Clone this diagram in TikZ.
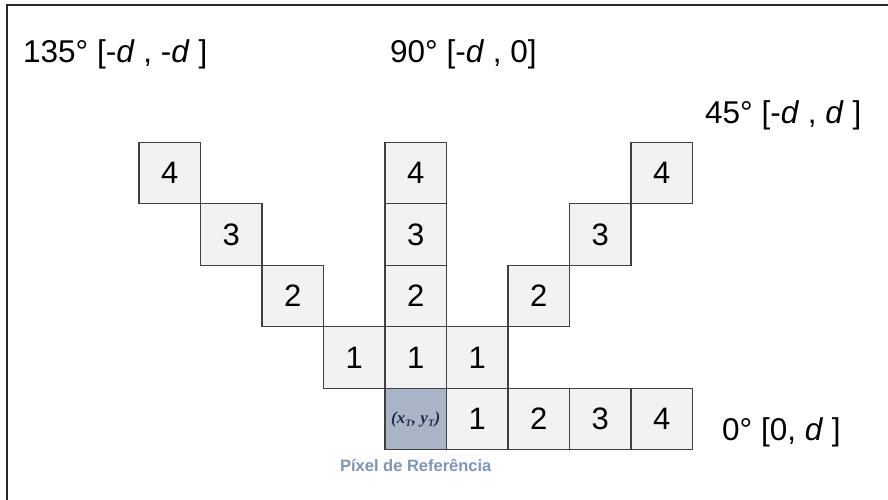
\documentclass[tikz,border=0pt]{standalone}
\usepackage{fontspec}
\setmainfont{Liberation Sans}
\newfontfamily\serifb{Liberation Serif}
\definecolor{cellfill}{HTML}{F2F2F2}
\definecolor{cellline}{HTML}{404040}
\definecolor{reffill}{HTML}{A9B4C6}
\definecolor{reftext}{HTML}{7F95B5}
\definecolor{refmath}{HTML}{1F2A4A}
\newcommand{\subT}{\raisebox{-3pt}{\fontsize{10}{11}\selectfont T}}
\begin{document}
\begin{tikzpicture}[x=1pt,y=-1pt,
  cellbox/.style={draw=cellline, line width=1.3pt, fill=cellfill, minimum size=61.5pt, inner sep=0pt, outer sep=0pt, font=\fontsize{31}{36}\selectfont},
  refbox/.style={cellbox, fill=reffill, font=\serifb\bfseries\itshape\fontsize{17}{19}\selectfont, text=refmath},
  dirlabel/.style={anchor=base west, inner sep=0pt, font=\fontsize{31.5}{36}\selectfont}]
\useasboundingbox (0,0) rectangle (888,500);
\fill[white] (0,0) rectangle (888,500);
\draw[line width=2pt, black!85] (6.5,500) -- (6.5,5.5) -- (888,5.5);
% column c center: 169.75+61.5c ; row r center: 173.05+61.5r
\foreach \c/\r/\t in {0/0/4,4/0/4,8/0/4,1/1/3,4/1/3,7/1/3,2/2/2,4/2/2,6/2/2,3/3/1,4/3/1,5/3/1,5/4/1,6/4/2,7/4/3,8/4/4}{
  \node[cellbox] (c-\r-\c) at ({169.75+61.5*\c},{173.05+61.5*\r}) {\t};
}
\node[refbox] (ref) at ({169.75+61.5*4},{173.05+61.5*4}) {(x\subT\kern0.5pt, y\subT\kern0.5pt)};
\node[inner sep=0pt, text=reftext, font=\bfseries\fontsize{16.5}{18}\selectfont] (reflabel) at (415.75,465) {Píxel de Referência};
\node[dirlabel] (l135) at (23,63) {135° [-\textit{d} , -\textit{d} ]};
\node[dirlabel] (l90) at (390,63) {90° [-\textit{d} , 0]};
\node[dirlabel] (l45) at (705,124) {45° [-\textit{d} , \textit{d} ]};
\node[dirlabel] (l0) at (722,440) {0° [0, \textit{d} ]};
\end{tikzpicture}
\end{document}
